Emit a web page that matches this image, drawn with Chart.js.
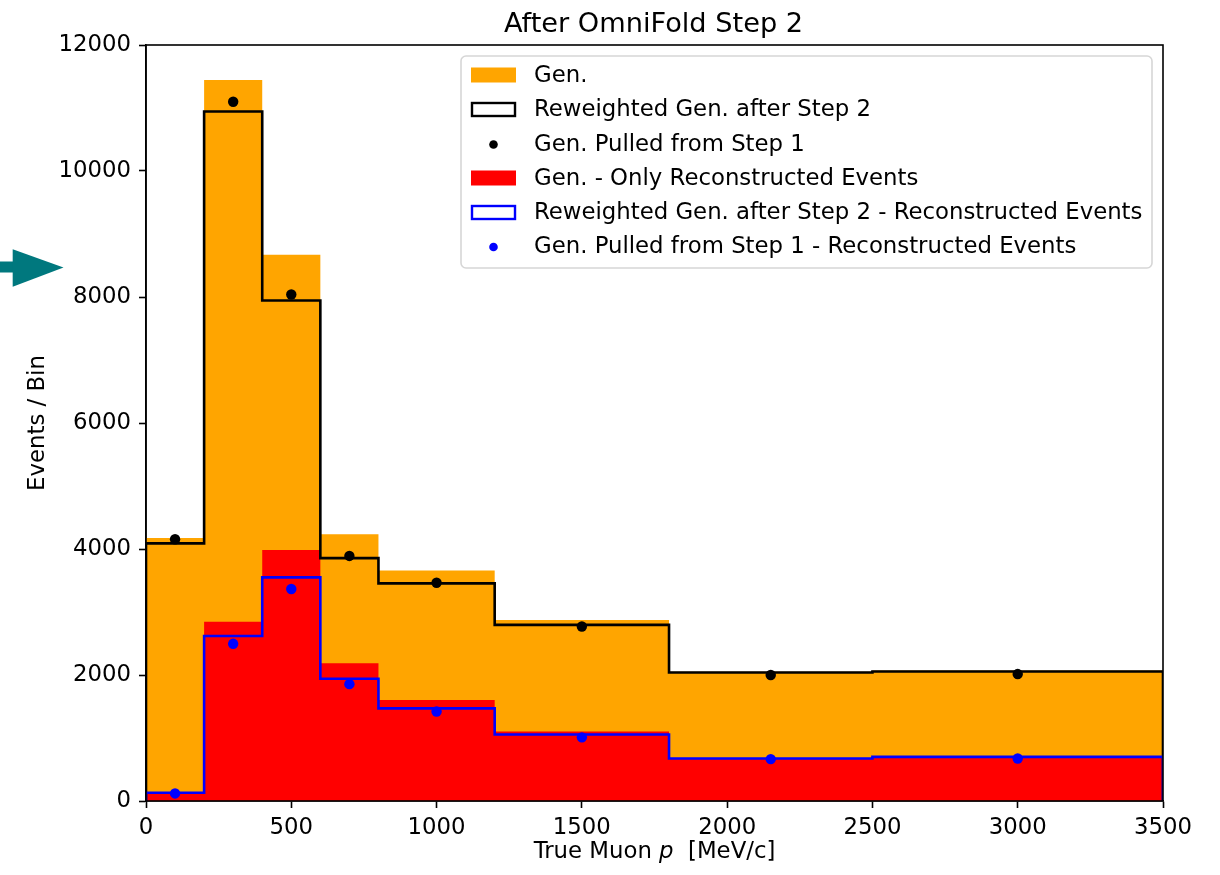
<!DOCTYPE html>
<html>
<head>
<meta charset="utf-8">
<title>After OmniFold Step 2</title>
<script src="https://cdn.jsdelivr.net/npm/chart.js@4.4.1/dist/chart.umd.min.js"></script>
<style>
  html, body { margin: 0; padding: 0; background: #ffffff; }
  #wrap { width: 1220px; height: 875px; }
</style>
</head>
<body>
<div id="wrap"><canvas id="chart" width="1220" height="875"></canvas></div>
<script>
// Bin edges and centres of the true muon momentum histogram [MeV/c]
const binEdges   = [0, 200, 400, 600, 800, 1200, 1800, 2500, 3500];
const binCenters = [100, 300, 500, 700, 1000, 1500, 2150, 3000];

// Events per bin
const genAll          = [4175, 11445, 8670, 4235, 3660, 2875, 2050, 2070];
const reweightedAll   = [4090, 10945, 7945, 3855, 3455, 2795, 2040, 2055];
const pulledAll       = [4155, 11100, 8040, 3890, 3465, 2770, 2000, 2015];
const genReco         = [125, 2845, 3985, 2185, 1605, 1105, 675, 700];
const reweightedReco  = [130, 2620, 3550, 1940, 1470, 1055, 675, 700];
const pulledReco      = [120, 2495, 3365, 1855, 1420, 1010, 665, 675];

// Tick labels
const xTicks = [0, 500, 1000, 1500, 2000, 2500, 3000, 3500];
const yTicks = [0, 2000, 4000, 6000, 8000, 10000, 12000];

const titleText = 'After OmniFold Step 2';
const legendLabels = [
  'Gen.',
  'Reweighted Gen. after Step 2',
  'Gen. Pulled from Step 1',
  'Gen. - Only Reconstructed Events',
  'Reweighted Gen. after Step 2 - Reconstructed Events',
  'Gen. Pulled from Step 1 - Reconstructed Events'
];

const ORANGE = '#ffa500';
const RED = '#ff0000';
const BLUE = '#0000ff';
const BLACK = '#000000';
const FONT = "'DejaVu Sans', 'Liberation Sans', sans-serif";
const FS = 22.8;

// Turn per-bin values into a stepped outline (optionally closed down to zero at both ends).
// Each point carries the height of the bin that ends at it.
function histSteps(values, closed) {
  const pts = [];
  pts.push({ x: binEdges[0], y: closed ? 0 : values[0] });
  values.forEach((v, i) => pts.push({ x: binEdges[i + 1], y: v }));
  if (closed) pts.push({ x: binEdges[binEdges.length - 1], y: 0 });
  return pts;
}
function centerPoints(values) {
  return values.map((v, i) => ({ x: binCenters[i], y: v }));
}

// 'after' in Chart.js: rise vertically at the previous x, then run across to the next point
const filledHist = (label, values, color, order) => ({
  type: 'line', label, data: histSteps(values, false), stepped: 'after',
  borderWidth: 0, borderColor: 'rgba(0,0,0,0)', backgroundColor: color,
  fill: 'origin', pointRadius: 0, order
});
const stepHist = (label, values, color, order) => ({
  type: 'line', label, data: histSteps(values, true), stepped: 'after',
  borderWidth: 2.6, borderColor: color, fill: false, pointRadius: 0, order
});
const dots = (label, values, color, order) => ({
  type: 'line', label, data: centerPoints(values), showLine: false,
  pointRadius: 5.2, pointBackgroundColor: color, pointBorderWidth: 0,
  pointBorderColor: color, order
});

// Frame, title, axis titles, legend box and the side arrow
const decorations = {
  id: 'decorations',
  afterDraw(chart) {
    const ctx = chart.ctx;
    const a = chart.chartArea;
    ctx.save();

    // frame
    ctx.strokeStyle = BLACK;
    ctx.lineWidth = 1.6;
    ctx.strokeRect(a.left, a.top, a.right - a.left, a.bottom - a.top);

    // title
    ctx.fillStyle = BLACK;
    ctx.font = '27.2px ' + FONT;
    ctx.textAlign = 'center';
    ctx.textBaseline = 'alphabetic';
    ctx.fillText(titleText, (a.left + a.right) / 2 - 1, 32);

    // x axis title with italic p
    const partA = 'True Muon ', partP = 'p', partB = '  [MeV/c]';
    ctx.font = FS + 'px ' + FONT;
    const wA = ctx.measureText(partA).width;
    const wB = ctx.measureText(partB).width;
    ctx.font = 'italic ' + FS + 'px ' + FONT;
    const wP = ctx.measureText(partP).width;
    let x0 = (a.left + a.right) / 2 - (wA + wP + wB) / 2;
    ctx.textAlign = 'left';
    ctx.font = FS + 'px ' + FONT;
    ctx.fillText(partA, x0, 858);
    ctx.font = 'italic ' + FS + 'px ' + FONT;
    ctx.fillText(partP, x0 + wA, 858);
    ctx.font = FS + 'px ' + FONT;
    ctx.fillText(partB, x0 + wA + wP, 858);

    // y axis title
    ctx.save();
    ctx.translate(43.5, (a.top + a.bottom) / 2);
    ctx.rotate(-Math.PI / 2);
    ctx.textAlign = 'center';
    ctx.fillText('Events / Bin', 0, 0);
    ctx.restore();

    // legend
    const lx = 461, ly = 56, lw = 691, lh = 212, r = 5;
    ctx.beginPath();
    ctx.moveTo(lx + r, ly);
    ctx.arcTo(lx + lw, ly, lx + lw, ly + lh, r);
    ctx.arcTo(lx + lw, ly + lh, lx, ly + lh, r);
    ctx.arcTo(lx, ly + lh, lx, ly, r);
    ctx.arcTo(lx, ly, lx + lw, ly, r);
    ctx.closePath();
    ctx.fillStyle = 'rgba(255,255,255,0.85)';
    ctx.fill();
    ctx.strokeStyle = '#d6d6d6';
    ctx.lineWidth = 1.6;
    ctx.stroke();

    const rowY = [75, 109.5, 144, 178, 212.5, 246.5];
    const hx = 471, hw = 45, hh = 15;
    const styles = [
      { kind: 'fill', color: ORANGE },
      { kind: 'step', color: BLACK },
      { kind: 'dot', color: BLACK },
      { kind: 'fill', color: RED },
      { kind: 'step', color: BLUE },
      { kind: 'dot', color: BLUE }
    ];
    styles.forEach((s, i) => {
      const cy = rowY[i];
      if (s.kind === 'fill') {
        ctx.fillStyle = s.color;
        ctx.fillRect(hx, cy - hh / 2, hw, hh);
      } else if (s.kind === 'step') {
        ctx.strokeStyle = s.color;
        ctx.lineWidth = 2.4;
        ctx.strokeRect(hx + 1, cy - hh / 2 + 1, hw - 2, hh - 2);
      } else {
        ctx.fillStyle = s.color;
        ctx.beginPath();
        ctx.arc(hx + hw / 2, cy + 0.5, 4.3, 0, Math.PI * 2);
        ctx.fill();
      }
      ctx.fillStyle = BLACK;
      ctx.font = FS + 'px ' + FONT;
      ctx.textAlign = 'left';
      ctx.textBaseline = 'middle';
      ctx.fillText(legendLabels[i], 534, cy + 1);
    });

    // side arrow
    ctx.fillStyle = '#00787e';
    ctx.fillRect(0, 261.5, 15, 11);
    ctx.beginPath();
    ctx.moveTo(12.7, 249.3);
    ctx.lineTo(63.5, 267.5);
    ctx.lineTo(12.7, 286.7);
    ctx.closePath();
    ctx.fill();

    ctx.restore();
  }
};

Chart.defaults.font.family = FONT;
Chart.defaults.font.size = FS;
Chart.defaults.color = BLACK;

new Chart(document.getElementById('chart'), {
  type: 'line',
  data: {
    datasets: [
      filledHist(legendLabels[0], genAll, ORANGE, 6),
      stepHist(legendLabels[1], reweightedAll, BLACK, 4),
      dots(legendLabels[2], pulledAll, BLACK, 2),
      filledHist(legendLabels[3], genReco, RED, 5),
      stepHist(legendLabels[4], reweightedReco, BLUE, 3),
      dots(legendLabels[5], pulledReco, BLUE, 1)
    ]
  },
  options: {
    responsive: false,
    animation: false,
    devicePixelRatio: 1,
    layout: { padding: { left: 0, top: 45, right: 57, bottom: 0 } },
    plugins: { legend: { display: false }, tooltip: { enabled: false }, title: { display: false } },
    scales: {
      x: {
        type: 'linear', min: 0, max: 3500,
        afterBuildTicks: s => { s.ticks = xTicks.map(v => ({ value: v })); },
        afterFit: s => { s.height = 74; },
        ticks: { callback: v => String(v), padding: 6, maxRotation: 0, autoSkip: false, color: BLACK, font: { size: FS } },
        grid: { drawOnChartArea: false, drawTicks: true, tickLength: 7, tickWidth: 1.6, tickColor: BLACK },
        border: { display: true, color: BLACK, width: 1.6 }
      },
      y: {
        type: 'linear', min: 0, max: 12000,
        afterBuildTicks: s => { s.ticks = yTicks.map(v => ({ value: v })); },
        afterFit: s => { s.width = 146; },
        ticks: { callback: v => String(v), padding: 8, autoSkip: false, color: BLACK, font: { size: FS } },
        grid: { drawOnChartArea: false, drawTicks: true, tickLength: 7, tickWidth: 1.6, tickColor: BLACK },
        border: { display: true, color: BLACK, width: 1.6 }
      }
    }
  },
  plugins: [decorations]
});
</script>
</body>
</html>
